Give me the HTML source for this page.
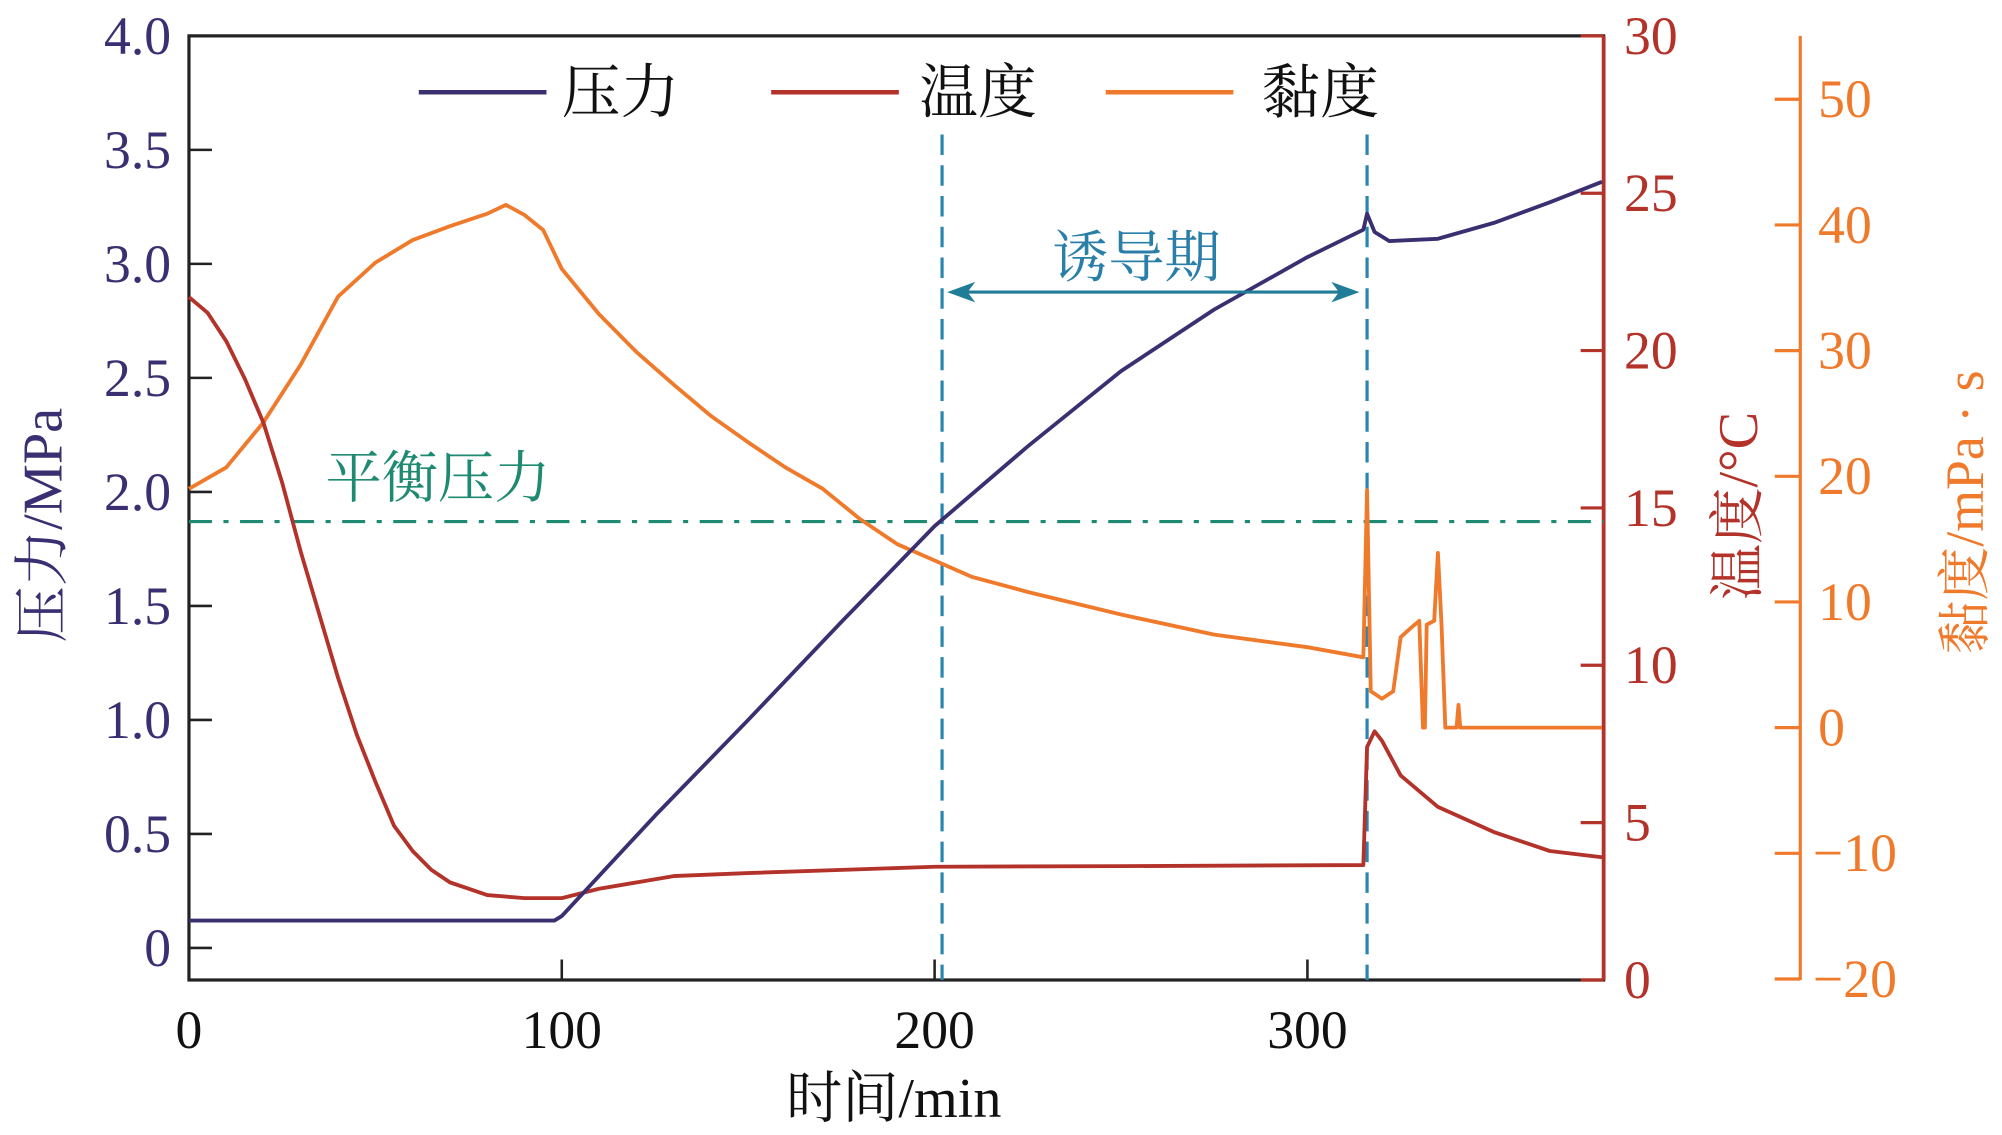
<!DOCTYPE html>
<html><head><meta charset="utf-8"><style>
html,body{margin:0;padding:0;background:#fff}
svg{display:block}
text{font-family:"Liberation Serif","Noto Serif CJK SC",serif}
</style></head><body>
<svg id="chart" width="2002" height="1135" viewBox="0 0 1568 886" preserveAspectRatio="none" xmlns="http://www.w3.org/2000/svg">
<g id="g"></g>
</svg>
<script>
const pTime=[0,98,100,125,150,175,200,225,250,275,300,315,316,318,322,335,350,365,379];
const pVal=[0.12,0.12,0.14,0.58,1.0,1.43,1.85,2.2,2.53,2.8,3.03,3.15,3.22,3.14,3.1,3.11,3.18,3.27,3.36];
const tTime=[0,5,10,15,20,25,30,35,40,45,50,55,60,65,70,80,90,100,110,130,150,200,250,315,316,318,320,325,335,350,365,379];
const tVal=[21.7,21.2,20.3,19.1,17.7,15.8,13.6,11.6,9.6,7.8,6.3,4.9,4.1,3.5,3.1,2.7,2.6,2.6,2.9,3.3,3.4,3.6,3.62,3.65,7.4,7.9,7.6,6.5,5.5,4.7,4.1,3.9];
const vTime=[0,10,20,30,40,50,60,70,80,85,90,95,100,110,120,130,140,150,160,170,180,190,200,210,225,250,275,300,315,316,317,320,323,325,328,330,331,331.5,332,334,335,336,337,340,340.5,341,379];
const vVal=[19.0,20.7,24.3,28.9,34.3,37.0,38.8,39.9,40.9,41.6,40.8,39.6,36.5,32.9,29.9,27.3,24.8,22.7,20.7,19.0,16.6,14.6,13.3,12.0,10.8,9.0,7.4,6.4,5.6,18.9,2.9,2.3,2.9,7.2,8.0,8.5,0,0,8.2,8.5,13.9,8.0,0,0,1.8,0,0];
const xTicks=[0,100,200,300];
const pTicks=[0,0.5,1.0,1.5,2.0,2.5,3.0,3.5,4.0];
const pTickLabels=["0","0.5","1.0","1.5","2.0","2.5","3.0","3.5","4.0"];
const tTicks=[0,5,10,15,20,25,30];
const vTicks=[-20,-10,0,10,20,30,40,50];
const vTickLabels=["\u221220","\u221210","0","10","20","30","40","50"];
const eqPressure=1.87;
const inductStart=202, inductEnd=316;

const L=148,R=1256,T=28,B=765;
const xs=t=>L+t*(1024-148)/300;
const yp=v=>740-v*178;
const yt=v=>B-v*(B-T)/30;
const yv=v=>568-v*9.81;
const NS="http://www.w3.org/2000/svg";
const g=document.getElementById('g');
function el(tag,attrs,txt){const e=document.createElementNS(NS,tag);for(const k in attrs)e.setAttribute(k,attrs[k]);if(txt!==undefined)e.textContent=txt;g.appendChild(e);return e;}
const NAVY="#3b2f72",RED="#b3322a",ORG="#f07a2c",BLUE="#2a86b0",TEAL="#1e8a72";

let e=el('rect',{x:L,y:T,width:R-L,height:B-T,fill:'none',stroke:'#222','stroke-width':2.5});

e=el('line',{x1:R,y1:T,x2:R,y2:B,stroke:RED,'stroke-width':3});

e=el('line',{x1:1410,y1:T,x2:1410,y2:B,stroke:ORG,'stroke-width':2.5});


xTicks.forEach(t=>{
 e=el('line',{x1:xs(t),y1:B,x2:xs(t),y2:B-16,stroke:'#222','stroke-width':2});
 
 e=el('text',{x:xs(t),y:818,'text-anchor':'middle','font-size':42,fill:'#111'},String(t));
 
});
pTicks.forEach((v,i)=>{
 e=el('line',{x1:L,y1:yp(v),x2:L+18,y2:yp(v),stroke:'#222','stroke-width':2});
 
 e=el('text',{x:134,y:yp(v)+14,'text-anchor':'end','font-size':42,fill:NAVY},pTickLabels[i]);
 
});
tTicks.forEach(v=>{
 e=el('line',{x1:R-18,y1:yt(v),x2:R,y2:yt(v),stroke:RED,'stroke-width':2.5});
 
 e=el('text',{x:1272,y:yt(v)+14,'text-anchor':'start','font-size':42,fill:RED},String(v));
 
});
vTicks.forEach((v,i)=>{
 e=el('line',{x1:1390,y1:yv(v),x2:1410,y2:yv(v),stroke:ORG,'stroke-width':2.5});
 
 e=el('text',{x:v<0?1420:1424,y:yv(v)+14,'text-anchor':'start','font-size':42,fill:ORG},vTickLabels[i]);
 
});

e=el('line',{x1:L,y1:yp(eqPressure),x2:R,y2:yp(eqPressure),stroke:TEAL,'stroke-width':2.5,'stroke-dasharray':'18 9 4 9'});

[inductStart,inductEnd].forEach(t=>{
 e=el('line',{x1:xs(t),y1:105,x2:xs(t),y2:B,stroke:BLUE,'stroke-width':2.5,'stroke-dasharray':'16 8'});
 
});

function path(ts,vs,fy,color,name){
 const d=ts.map((t,i)=>(i?'L':'M')+xs(t).toFixed(1)+' '+fy(vs[i]).toFixed(1)).join(' ');
 const p=el('path',{d:d,fill:'none',stroke:color,'stroke-width':3,'stroke-linejoin':'round'});
 
}
path(vTime,vVal,yv,ORG,'viscosity-line');
path(tTime,tVal,yt,RED,'temperature-line');
path(pTime,pVal,yp,NAVY,'pressure-line');

const ay=228,ax1=xs(inductStart)+4,ax2=xs(inductEnd)-6;
e=el('line',{x1:ax1+10,y1:ay,x2:ax2-10,y2:ay,stroke:'#1f7d98','stroke-width':2.5});

e=el('path',{d:`M${ax1} ${ay} l22 -8 l-6 8 l6 8 z M${ax2} ${ay} l-22 -8 l6 8 l-6 8 z`,fill:'#1f7d98'});

e=el('text',{x:890,y:216,'text-anchor':'middle','font-size':44,fill:'#2a7fa8'},'诱导期');

e=el('text',{x:255,y:388,'font-size':44,fill:TEAL},'平衡压力');


[[328,440,NAVY,'压力','legend-pressure'],[604,720,RED,'温度','legend-temperature'],[866,988,ORG,'黏度','legend-viscosity']].forEach(a=>{
 e=el('line',{x1:a[0],y1:72,x2:a[0]+100,y2:72,stroke:a[2],'stroke-width':3.5});
 
 e=el('text',{x:a[1],y:88,'font-size':46,fill:'#111'},a[3]);
 
});

e=el('text',{x:700,y:872,'text-anchor':'middle','font-size':44,fill:'#111'},'时间/min');

e=el('text',{x:0,y:0,transform:'translate(48,410) rotate(-90)','text-anchor':'middle','font-size':44,fill:NAVY},'压力/MPa');

e=el('text',{x:0,y:0,transform:'translate(1376,395) rotate(-90)','text-anchor':'middle','font-size':44,fill:RED},'温度/°C');

e=el('text',{x:0,y:0,transform:'translate(1553,400) rotate(-90)','text-anchor':'middle','font-size':42,fill:ORG},'黏度/mPa · s');

</script>
</body></html>
